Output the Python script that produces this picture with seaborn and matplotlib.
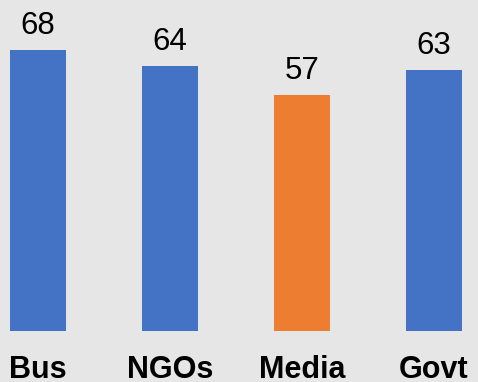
import matplotlib
matplotlib.use("Agg")
import matplotlib.pyplot as plt
import seaborn as sns
import pandas as pd

categories = ["Bus", "NGOs", "Media", "Govt"]
values = [68, 64, 57, 63]
colors = ["#4472C4", "#4472C4", "#ED7D31", "#4472C4"]

df = pd.DataFrame({"cat": categories, "val": values})

sns.set_theme(style="white")
plt.rcParams["font.family"] = ["Liberation Sans", "DejaVu Sans"]

bg = "#E6E6E6"
fig = plt.figure(figsize=(4.78, 3.82), dpi=100, facecolor=bg)
ax = fig.add_axes([0, 51 / 382, 1, 331 / 382])
ax.set_facecolor(bg)

sns.barplot(data=df, x="cat", y="val", hue="cat",
            palette=dict(zip(categories, colors)), legend=False,
            width=0.424, saturation=1, linewidth=0, ax=ax)

for p, v in zip(ax.patches, values):
    ax.annotate(str(v), (p.get_x() + p.get_width() / 2, p.get_height()),
                xytext=(0, 11.5), textcoords="offset points",
                ha="center", va="baseline", fontsize=22.5, color="black")

ax.set_xlim(-0.288, 3.333)
ax.set_ylim(0, 80)
ax.set_xlabel("")
ax.set_ylabel("")
ax.set_yticks([])
ax.tick_params(axis="x", length=0, pad=17, labelsize=22)
for lbl in ax.get_xticklabels():
    lbl.set_fontweight("bold")
    lbl.set_color("black")
for s in ax.spines.values():
    s.set_visible(False)

fig.savefig("out.png", dpi=100, facecolor=bg)
